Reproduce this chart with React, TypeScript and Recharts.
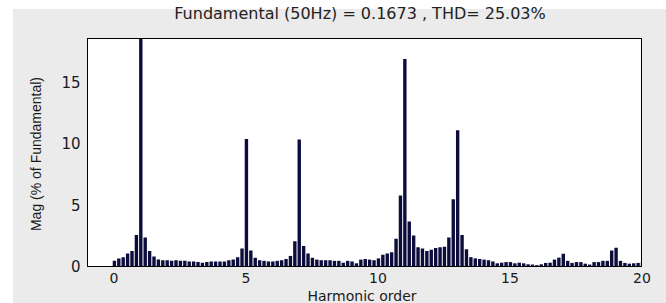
import React from 'react';
import { BarChart, Bar, XAxis, YAxis, CartesianGrid } from 'recharts';

// FFT spectrum, one bin every 1/6 of a harmonic (6 cycle window)
const BINS_PER_HARMONIC = 6;
const magnitudes = [
  0.5, 0.7, 0.8, 1.1, 1.3, 2.6, 100, 2.4, 1.3, 0.85, 0.6, 0.55,
  0.55, 0.5, 0.55, 0.5, 0.5, 0.45, 0.45, 0.4, 0.35, 0.4, 0.45, 0.45,
  0.45, 0.45, 0.55, 0.6, 0.8, 1.5, 10.4, 1.35, 0.75, 0.55, 0.5, 0.45,
  0.45, 0.5, 0.55, 0.65, 0.9, 2.1, 10.35, 1.7, 1.1, 0.75, 0.6, 0.55,
  0.55, 0.55, 0.5, 0.5, 0.35, 0.5, 0.45, 0.3, 0.6, 0.65, 0.6, 0.55,
  0.7, 1.0, 1.1, 1.2, 2.3, 5.8, 16.9, 3.7, 2.55, 1.6, 1.5, 1.3,
  1.4, 1.55, 1.6, 1.65, 2.4, 5.5, 11.1, 2.6, 1.45, 0.8, 0.7, 0.65,
  0.6, 0.55, 0.45, 0.3, 0.35, 0.4, 0.4, 0.3, 0.35, 0.3, 0.22, 0.2,
  0.15, 0.22, 0.33, 0.35, 0.6, 0.76, 1.08, 0.5, 0.33, 0.4, 0.4, 0.27,
  0.2, 0.4, 0.4, 0.5, 0.5, 1.35, 1.57, 0.5, 0.33, 0.27, 0.3, 0.33, 0.4,
];
const xTicks = [0, 5, 10, 15, 20];
const yTicks = [0, 5, 10, 15];

const titleText = 'Fundamental (50Hz) = 0.1673 , THD= 25.03%';
const xLabel = 'Harmonic order';
const yLabel = 'Mag (% of Fundamental)';

const data = magnitudes.map((mag, i) => ({ order: i / BINS_PER_HARMONIC, mag }));

const font = '"Liberation Sans", Arial, sans-serif';
const wideFont = '"DejaVu Sans", sans-serif';
const textColor = '#1a1a1a';

const xDomain = [-1, 20];
const yDomain = [0, 18.6];

// plot box in page pixels
const plot = { left: 87, top: 38, width: 555, height: 229 };

export default function App() {
  return (
    <div style={{ position: 'absolute', left: 0, top: 0, width: 666, height: 303, background: '#fff', overflow: 'hidden' }}>
      {/* grey figure background */}
      <div style={{ position: 'absolute', left: 13, top: 9, right: 0, bottom: 0, background: '#ebebeb' }} />

      <div style={{ position: 'absolute', left: 0, top: 0 }}>
        <BarChart
          width={666}
          height={303}
          data={data}
          margin={{ top: 38, right: 24, bottom: 6, left: 27.5 }}
        >
          <CartesianGrid fill="#ffffff" horizontal={false} vertical={false} />
          {/* inward tick marks on all four sides (matlab style) */}
          <XAxis xAxisId="bottomTicks" dataKey="order" type="number" domain={xDomain} ticks={xTicks}
            allowDataOverflow height={0} mirror stroke="#000" tickSize={5} tick={false} />
          <XAxis xAxisId="topTicks" dataKey="order" type="number" orientation="top" domain={xDomain} ticks={xTicks}
            allowDataOverflow height={0} mirror stroke="#000" tickSize={5} tick={false} />
          <YAxis yAxisId="leftTicks" type="number" domain={yDomain} ticks={yTicks}
            allowDataOverflow width={0} mirror stroke="#000" tickSize={5} tick={false} />
          <YAxis yAxisId="rightTicks" orientation="right" type="number" domain={yDomain} ticks={yTicks}
            allowDataOverflow width={0} mirror stroke="#000" tickSize={5} tick={false} />
          <XAxis
            xAxisId="bottom"
            dataKey="order"
            type="number"
            domain={xDomain}
            ticks={xTicks}
            allowDataOverflow
            height={30}
            axisLine={false}
            tickLine={false}
            tickSize={6}
            tickMargin={0}
            tick={{ fill: textColor, fontSize: 14, fontFamily: wideFont }}
          />
          <YAxis
            yAxisId="left"
            type="number"
            domain={yDomain}
            ticks={yTicks}
            allowDataOverflow
            width={60}
            axisLine={false}
            tickLine={false}
            tickSize={6}
            tickMargin={1}
            tick={{ fill: textColor, fontSize: 15, fontFamily: wideFont }}
          />
          <Bar
            xAxisId="bottom"
            yAxisId="left"
            dataKey="mag"
            fill="#0d0d3d"
            barSize={3.4}
            isAnimationActive={false}
          />
        </BarChart>
      </div>

      {/* axes box */}
      <div
        style={{
          position: 'absolute', left: plot.left, top: plot.top, width: plot.width, height: plot.height,
          border: '1px solid #000', boxSizing: 'border-box', pointerEvents: 'none',
        }}
      />

      <div
        style={{
          position: 'absolute', left: 360, top: 5, transform: 'translateX(-50%)',
          whiteSpace: 'nowrap', fontFamily: wideFont, fontSize: 16, color: '#222', lineHeight: '18px',
        }}
      >
        {titleText}
      </div>
      <div
        style={{
          position: 'absolute', left: 362, top: 289, transform: 'translateX(-50%)',
          whiteSpace: 'nowrap', fontFamily: wideFont, fontSize: 14, color: textColor, lineHeight: '14px',
        }}
      >
        {xLabel}
      </div>
      <div
        style={{
          position: 'absolute', left: 36, top: 154, transform: 'translate(-50%, -50%) rotate(-90deg)',
          whiteSpace: 'nowrap', fontFamily: font, fontSize: 14, color: textColor, lineHeight: '16px',
        }}
      >
        {yLabel}
      </div>
    </div>
  );
}
